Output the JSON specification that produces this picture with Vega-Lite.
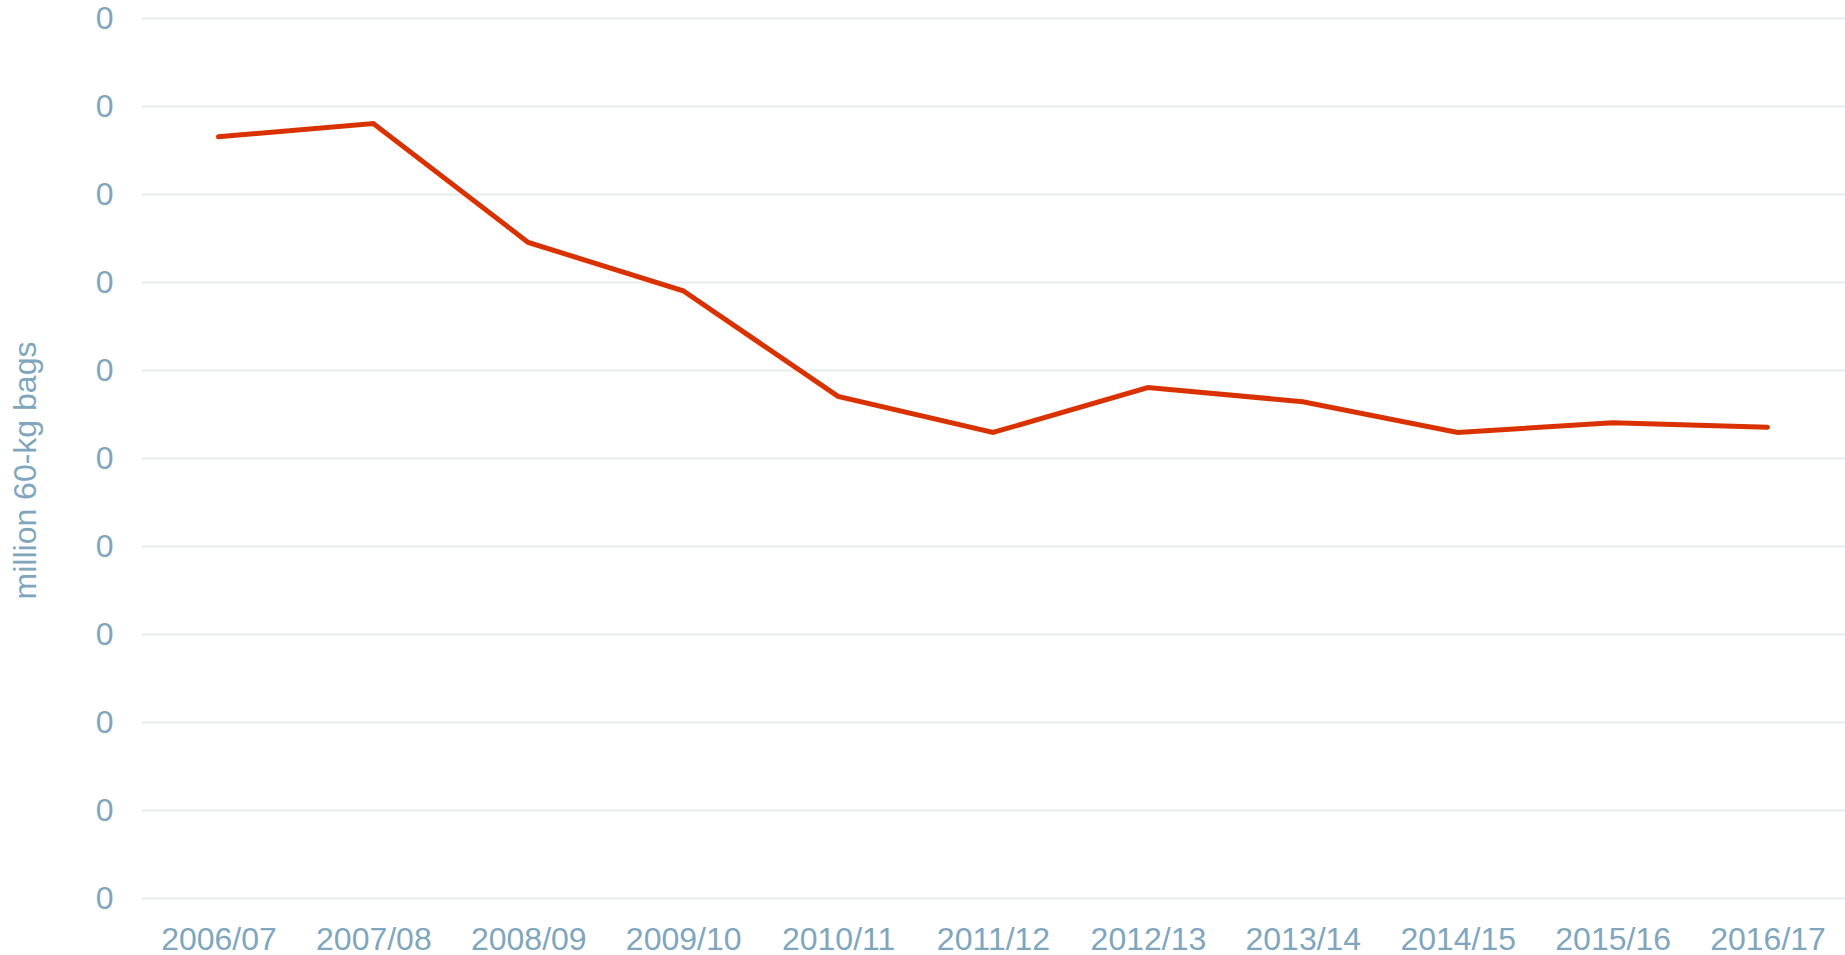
{
  "$schema": "https://vega.github.io/schema/vega-lite/v6.json",
  "autosize": "none",
  "width": 1704,
  "height": 880,
  "padding": {"left": 141, "top": 18, "right": 0, "bottom": 57},
  "background": "white",
  "config": {"view": {"stroke": null}, "font": "Liberation Sans"},
  "data": {"values": [
    {"season": "2006/07", "value": 0.0865},
    {"season": "2007/08", "value": 0.0880},
    {"season": "2008/09", "value": 0.0745},
    {"season": "2009/10", "value": 0.0690},
    {"season": "2010/11", "value": 0.0570},
    {"season": "2011/12", "value": 0.0529},
    {"season": "2012/13", "value": 0.0580},
    {"season": "2013/14", "value": 0.0564},
    {"season": "2014/15", "value": 0.0529},
    {"season": "2015/16", "value": 0.0540},
    {"season": "2016/17", "value": 0.0535}
  ]},
  "mark": {"type": "line", "color": "#D93200", "strokeWidth": 5, "strokeCap": "round", "strokeJoin": "miter"},
  "encoding": {
    "x": {
      "field": "season", "type": "ordinal", "sort": null,
      "scale": {"type": "point", "padding": 0.5},
      "axis": {
        "title": null, "domain": false, "ticks": false, "tickSize": 0, "grid": false,
        "labelAngle": 0, "labelFontSize": 32, "labelColor": "#7FA6BC", "labelPadding": 26
      }
    },
    "y": {
      "field": "value", "type": "quantitative",
      "scale": {"domain": [0, 0.1], "nice": false, "zero": true},
      "axis": {
        "title": "million 60-kg bags", "values": [0, 0.01, 0.02, 0.03, 0.04, 0.05, 0.06, 0.07, 0.08, 0.09, 0.1],
        "format": ".0f", "domain": false, "ticks": false, "tickSize": 0,
        "grid": true, "gridColor": "#E6ECF0", "gridWidth": 2,
        "labelFontSize": 32, "labelColor": "#7FA6BC", "labelPadding": 28,
        "titleFontSize": 32, "titleFontWeight": "normal", "titleColor": "#7FA6BC",
        "titleX": -116, "titleY": 452, "titleAngle": -90, "titleAlign": "center", "titleBaseline": "middle"
      }
    }
  }
}
